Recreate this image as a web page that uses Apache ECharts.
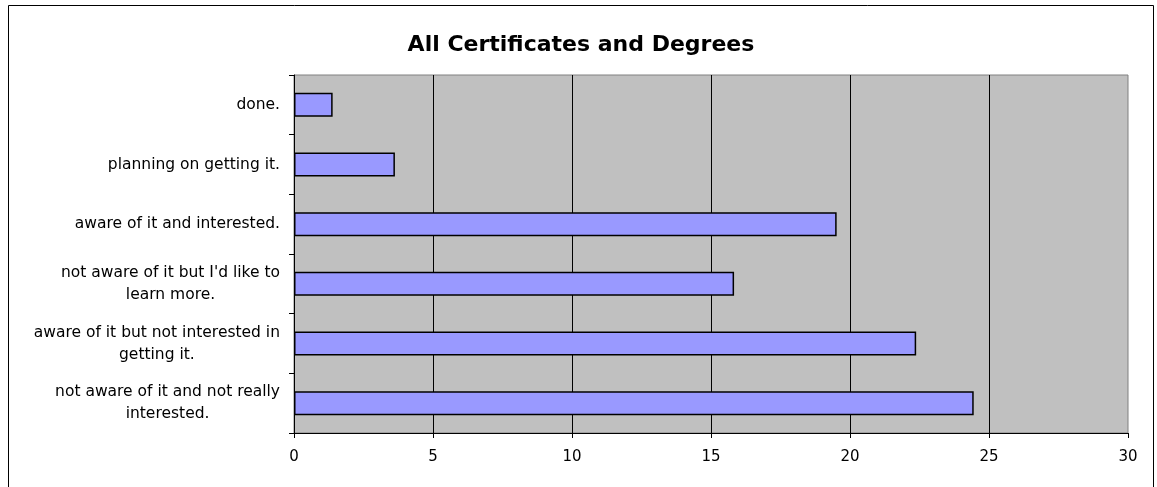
<!DOCTYPE html>
<html>
<head>
<meta charset="utf-8">
<title>All Certificates and Degrees</title>
<script src="https://cdn.jsdelivr.net/npm/echarts@6/dist/echarts.min.js"></script>
<style>
  html, body { margin: 0; padding: 0; background: #ffffff; }
  #chart { width: 1157px; height: 487px; }
</style>
</head>
<body>
<div id="chart"></div>
<script>
// Survey answers, listed top to bottom
const categories = [
  "done.",
  "planning on getting it.",
  "aware of it and interested.",
  "not aware of it but I'd like to\nlearn more.",
  "aware of it but not interested in\ngetting it.",
  "not aware of it and not really\ninterested."
];
const values = [1.39, 3.63, 19.52, 15.83, 22.38, 24.45];
const xTicks = [0, 5, 10, 15, 20, 25, 30];

const FONT = "'DejaVu Sans', Verdana, sans-serif";

const chart = echarts.init(document.getElementById('chart'), null, { renderer: 'canvas' });

chart.setOption({
  animation: false,
  backgroundColor: '#ffffff',
  title: {
    text: 'All Certificates and Degrees',
    left: 576,
    top: 29,
    textAlign: 'center',
    textStyle: { fontFamily: FONT, fontSize: 22, fontWeight: 'bold', color: '#000000' }
  },
  graphic: [{
    type: 'rect',
    shape: { x: 8.5, y: 5.5, width: 1145, height: 520 },
    style: { fill: 'none', stroke: '#000000', lineWidth: 1 },
    silent: true,
    z: -1
  }],
  grid: {
    left: 294,
    top: 75,
    right: 1157 - 1128,
    bottom: 487 - 433,
    show: true,
    backgroundColor: '#c0c0c0',
    borderColor: '#808080',
    borderWidth: 1
  },
  xAxis: {
    type: 'value',
    min: xTicks[0],
    max: xTicks[xTicks.length - 1],
    interval: xTicks[1] - xTicks[0],
    axisLine: { show: true, lineStyle: { color: '#000000', width: 1 } },
    axisTick: { show: true, length: 5, lineStyle: { color: '#000000' } },
    axisLabel: { margin: 17, fontFamily: FONT, fontSize: 15, color: '#000000' },
    splitLine: { show: true, showMinLine: false, showMaxLine: false, lineStyle: { color: '#000000', width: 1 } }
  },
  yAxis: {
    type: 'category',
    inverse: true,
    data: categories,
    axisLine: { show: true, lineStyle: { color: '#000000', width: 1 } },
    axisTick: { show: true, length: 5, lineStyle: { color: '#000000' } },
    axisLabel: {
      margin: 14,
      formatter: v => '{c|' + v + '}',
      rich: {
        c: { fontFamily: FONT, fontSize: 15.5, color: '#000000', align: 'center', lineHeight: 22 }
      }
    },
    splitLine: { show: false }
  },
  series: [{
    type: 'bar',
    data: values,
    barWidth: 24,
    itemStyle: { color: '#9999ff', borderColor: '#000000', borderWidth: 1.5 }
  }]
});
</script>
</body>
</html>
